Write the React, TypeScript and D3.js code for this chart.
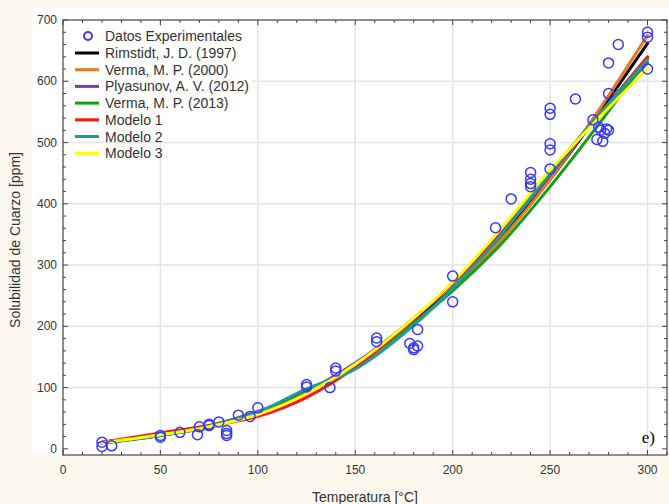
import React from "react";
import * as d3 from "d3";

// Model curves sampled at these temperatures (°C)
const temps = [20, 50, 75, 100, 125, 150, 175, 200, 225, 250, 275, 300];

// Quartz solubility (ppm) for each model
const rimstidt1997 = [10, 22, 36, 58, 91, 137, 195, 262, 345, 440, 548, 662];
const verma2000 = [10, 22, 35, 57, 90, 135, 192, 260, 342, 440, 553, 675];
const plyasunov2012 = [11, 24, 38, 61, 94, 140, 200, 270, 352, 447, 545, 630];
const verma2013 = [10, 22, 36, 58, 91, 136, 193, 258, 335, 428, 530, 637];
const modelo1 = [11, 26, 38, 53, 84, 133, 198, 270, 355, 452, 545, 640];
const modelo2 = [10, 22, 37, 60, 98, 130, 188, 262, 350, 450, 545, 635];
const modelo3 = [10, 23, 36, 56, 90, 138, 200, 272, 360, 455, 540, 621];

// Experimental measurements
const expT = [
  20, 20, 25, 50, 50, 60, 69, 70, 75, 75, 80, 84, 84, 84, 90, 96, 100, 125, 125,
  137, 140, 140, 161, 161, 178, 180, 182, 180, 182, 200, 200, 222, 230, 240, 240,
  240, 240, 250, 250, 250, 250, 250, 263, 272, 275, 276, 278, 274, 277, 279, 280,
  280, 280, 285, 300, 300, 300,
];
const expS = [
  11, 4, 5, 22, 19, 27, 23, 36, 38, 40, 44, 30, 25, 22, 55, 53, 67, 105, 101,
  100, 132, 127, 181, 175, 172, 165, 168, 162, 195, 282, 240, 361, 408, 451, 440,
  433, 428, 556, 546, 498, 488, 457, 571, 537, 525, 520, 515, 505, 502, 522, 520,
  580, 630, 660, 680, 672, 620,
];

const xTicks = [0, 50, 100, 150, 200, 250, 300];
const yTicks = [0, 100, 200, 300, 400, 500, 600, 700];

const seriesNames = [
  "Rimstidt, J. D. (1997)",
  "Verma, M. P. (2000)",
  "Plyasunov, A. V. (2012)",
  "Verma, M. P. (2013)",
  "Modelo 1",
  "Modelo 2",
  "Modelo 3",
];
const seriesValues = [
  rimstidt1997,
  verma2000,
  plyasunov2012,
  verma2013,
  modelo1,
  modelo2,
  modelo3,
];
const seriesColors = [
  "#000000",
  "#ea7a22",
  "#7040a0",
  "#12a012",
  "#ff1010",
  "#1a9f98",
  "#ffff00",
];

const W = 669;
const H = 504;
const left = 63;
const right = 667;
const top = 20;
const bottom = 455;

const x = d3.scaleLinear().domain([0, 310]).range([left, right]);
const y = d3.scaleLinear().domain([-10, 700]).range([bottom, top]);

const font = "Liberation Sans, Arial, sans-serif";

export default function App() {
  const line = d3
    .line<number>()
    .x((_, i) => x(temps[i]))
    .y((v) => y(v))
    .curve(d3.curveMonotoneX);

  const minorX = d3.range(0, 311, 10);
  const minorY = d3.range(0, 701, 20);

  return (
    <svg
      width={W}
      height={H}
      style={{ position: "absolute", left: 0, top: 0, background: "#fdf9ef" }}
    >
      <rect x={32} y={8} width={W - 32} height={bottom - 8} fill="#ffffff" />
      {/* grid */}
      {xTicks
        .filter((t) => t > 0)
        .map((t) => (
          <line
            key={"gx" + t}
            x1={x(t)}
            x2={x(t)}
            y1={top}
            y2={bottom}
            stroke="#e4e4e4"
            strokeWidth={1.5}
          />
        ))}
      {yTicks
        .filter((t) => t > 0 && t < 700)
        .map((t) => (
          <line
            key={"gy" + t}
            x1={left}
            x2={right}
            y1={y(t)}
            y2={y(t)}
            stroke="#e4e4e4"
            strokeWidth={1.5}
          />
        ))}
      {/* legend backdrop */}
      <rect x={70} y={27} width={182} height={113} fill="#ffffff" />

      {/* model curves */}
      {seriesValues.map((vals, i) => (
        <path
          key={"s" + i}
          d={line(vals) || ""}
          fill="none"
          stroke={seriesColors[i]}
          strokeWidth={3}
          strokeLinejoin="round"
          strokeLinecap="round"
        />
      ))}

      {/* experimental points */}
      {expT.map((t, i) => (
        <circle
          key={"p" + i}
          cx={x(t)}
          cy={y(expS[i])}
          r={5}
          fill="none"
          stroke="#3838ff"
          strokeWidth={1.5}
        />
      ))}

      {/* frame */}
      <rect
        x={left}
        y={top}
        width={right - left}
        height={bottom - top}
        fill="none"
        stroke="#444"
        strokeWidth={1.2}
      />
      {/* ticks, inside on all sides */}
      {minorX.map((t) => {
        const major = t % 50 === 0;
        const len = major ? 5 : 3;
        return (
          <g key={"tx" + t} stroke="#444" strokeWidth={1}>
            <line x1={x(t)} x2={x(t)} y1={bottom} y2={bottom - len} />
            <line x1={x(t)} x2={x(t)} y1={top} y2={top + len} />
          </g>
        );
      })}
      {minorY.map((t) => {
        const major = t % 100 === 0;
        const len = major ? 5 : 3;
        return (
          <g key={"ty" + t} stroke="#444" strokeWidth={1}>
            <line x1={left} x2={left + len} y1={y(t)} y2={y(t)} />
            <line x1={right} x2={right - len} y1={y(t)} y2={y(t)} />
          </g>
        );
      })}

      {/* tick labels */}
      {xTicks.map((t) => (
        <text
          key={"lx" + t}
          x={x(t)}
          y={474}
          textAnchor="middle"
          fontFamily={font}
          fontSize={12}
          fill="#333"
        >
          {t}
        </text>
      ))}
      {yTicks.map((t) => (
        <text
          key={"ly" + t}
          x={57}
          y={y(t) + 4}
          textAnchor="end"
          fontFamily={font}
          fontSize={12}
          fill="#333"
        >
          {t}
        </text>
      ))}

      {/* axis titles */}
      <text
        x={(left + right) / 2}
        y={502}
        textAnchor="middle"
        fontFamily={font}
        fontSize={14}
        fill="#333"
      >
        Temperatura [°C]
      </text>
      <text
        transform={`translate(20, ${240}) rotate(-90)`}
        textAnchor="middle"
        fontFamily={font}
        fontSize={14}
        fill="#333"
      >
        Solubilidad de Cuarzo [ppm]
      </text>

      {/* legend */}
      <g>
        <circle cx={88} cy={36} r={4} fill="none" stroke="#3838ff" strokeWidth={2} />
        <text x={105} y={41} fontFamily={font} fontSize={14} fill="#333">
          Datos Experimentales
        </text>
        {seriesNames.map((name, i) => {
          const cy = 53 + i * 16.7;
          return (
            <g key={"lg" + i}>
              <line
                x1={75}
                x2={99}
                y1={cy}
                y2={cy}
                stroke={seriesColors[i]}
                strokeWidth={3}
              />
              <text x={105} y={cy + 5} fontFamily={font} fontSize={14} fill="#333">
                {name}
              </text>
            </g>
          );
        })}
      </g>

      <text
        x={655}
        y={443}
        textAnchor="end"
        fontFamily="Liberation Serif, Times New Roman, serif"
        fontSize={17}
        fill="#000"
      >
        e)
      </text>
    </svg>
  );
}
